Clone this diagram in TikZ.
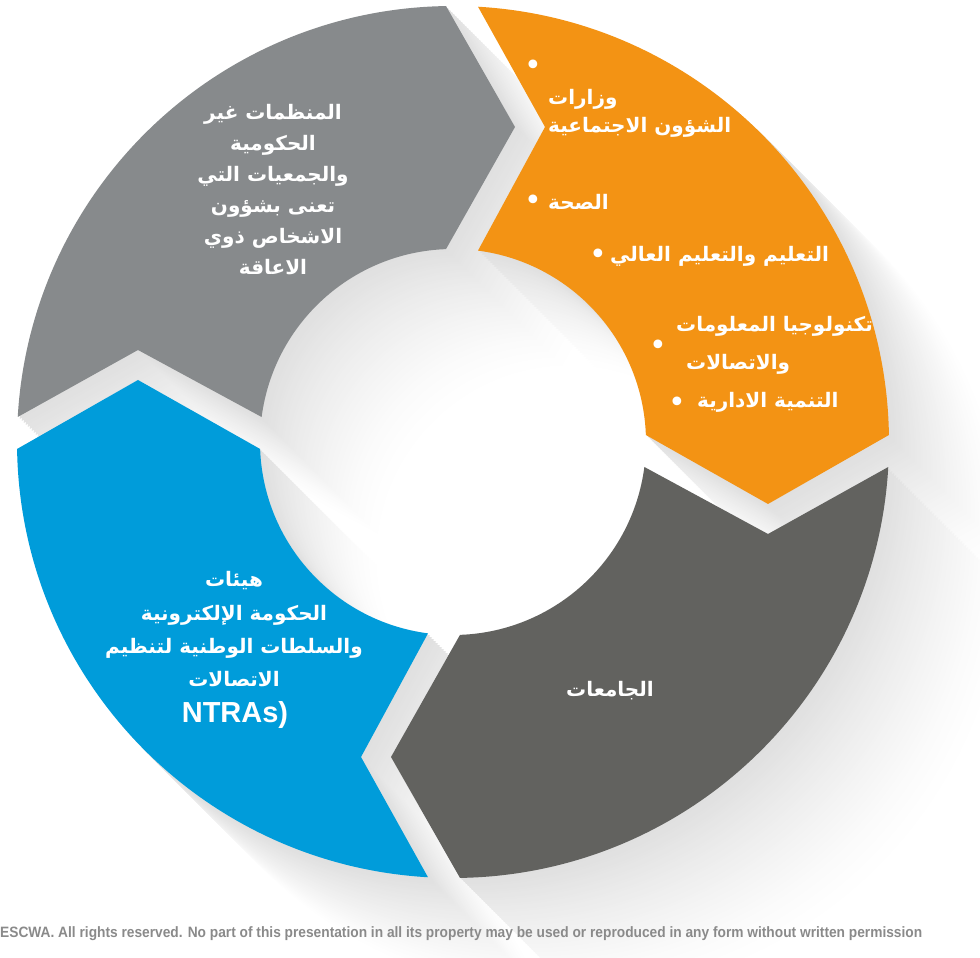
\documentclass[tikz,border=0pt]{standalone}
\usepackage{fontspec}
\setmainfont{Liberation Sans}
\newfontfamily\arabicfont[Script=Arabic]{DejaVu Sans}
\newfontfamily\dejavufont{DejaVu Sans}
\TeXXeTstate=1
\newcommand{\arline}[1]{\beginR #1\endR}
\definecolor{seggray}{HTML}{878A8C}
\definecolor{segorange}{HTML}{F39314}
\definecolor{segdark}{HTML}{62625F}
\definecolor{segblue}{HTML}{009CDA}
\definecolor{shadowc}{HTML}{E0E0E0}
\definecolor{footc}{HTML}{8A8A8A}
\newcommand{\drawseg}[1]{\fill[#1] (176.71:436pt) arc[start angle=176.71, end angle=90.92, radius=436pt] -- (62pt,315pt) -- (92.08:193pt) arc[start angle=92.08, end angle=172.56, radius=193pt] -- (-315pt,92pt) -- cycle;}
\tikzset{
  artext/.style={text=white, font=\arabicfont\bfseries\fontsize{20}{30}\selectfont, inner sep=0pt},
  bul/.style={text=white, font=\dejavufont\fontsize{30}{30}\selectfont, inner sep=0pt},
  foottext/.style={text=footc, font=\bfseries\fontsize{15}{17}\selectfont, inner sep=0pt}
}
\begin{document}
\begin{tikzpicture}[x=1pt,y=1pt]
\useasboundingbox (0,0) rectangle (980,958);
\fill[white] (0,0) rectangle (980,958);
% long soft shadow
\foreach \k in {60,59,...,1}{
  \pgfmathsetmacro\mix{100*(1-(\k-1)/60)^1.4}
  \foreach \i in {0,1,2,3}{
    \begin{scope}[shift={({453+2*\k},{516-2*\k})}, rotate={-90*\i}]
      \drawseg{shadowc!\mix!white}
    \end{scope}
  }
}
% ring segments
\foreach \i/\c in {0/seggray,1/segorange,2/segdark,3/segblue}{
  \begin{scope}[shift={(453,516)}, rotate={-90*\i}]
    \drawseg{\c}
  \end{scope}
}
% gray segment text
\node[artext, anchor=base] (g1) at (273,838) {\arline{المنظمات غير}};
\node[artext, anchor=base] (g2) at (273,807) {\arline{الحكومية}};
\node[artext, anchor=base] (g3) at (273,776) {\arline{والجمعيات التي}};
\node[artext, anchor=base] (g4) at (273,745) {\arline{تعنى بشؤون}};
\node[artext, anchor=base] (g5) at (273,714) {\arline{الاشخاص ذوي}};
\node[artext, anchor=base] (g6) at (273,683) {\arline{الاعاقة}};
% orange segment text
\node[bul] (b1) at (533,890) {•};
\node[artext, anchor=base west] (o1) at (548,853) {\arline{وزارات}};
\node[artext, anchor=base west] (o2) at (548,825) {\arline{الشؤون الاجتماعية}};
\node[bul] (b2) at (533,755) {•};
\node[artext, anchor=base west] (o3) at (548,748) {\arline{الصحة}};
\node[bul] (b3) at (598,701) {•};
\node[artext, anchor=base west] (o4) at (610,696) {\arline{التعليم والتعليم العالي}};
\node[artext, anchor=base west] (o5) at (676,626) {\arline{تكنولوجيا المعلومات}};
\node[bul] (b4) at (658,610) {•};
\node[artext, anchor=base west] (o6) at (686,588) {\arline{والاتصالات}};
\node[bul] (b5) at (677,553) {•};
\node[artext, anchor=base west] (o7) at (697,550) {\arline{التنمية الادارية}};
% dark segment text
\node[artext, anchor=base] (d1) at (610,261) {\arline{الجامعات}};
% blue segment text
\node[artext, anchor=base] (u1) at (234,371) {\arline{هيئات}};
\node[artext, anchor=base] (u2) at (234,337) {\arline{الحكومة الإلكترونية}};
\node[artext, anchor=base] (u3) at (234,304) {\arline{والسلطات الوطنية لتنظيم}};
\node[artext, anchor=base] (u4) at (234,271) {\arline{الاتصالات}};
\node[text=white, font=\bfseries\fontsize{29}{30}\selectfont, inner sep=0pt, anchor=base] (u5) at (235,235) {NTRAs)};
% footer
\node[foottext, anchor=base west] (foot) at (0,20) {\resizebox{922pt}{\height}{ESCWA. All rights reserved. No part of this presentation in all its property may be used or reproduced in any form without written permission}};
\end{tikzpicture}
\end{document}
